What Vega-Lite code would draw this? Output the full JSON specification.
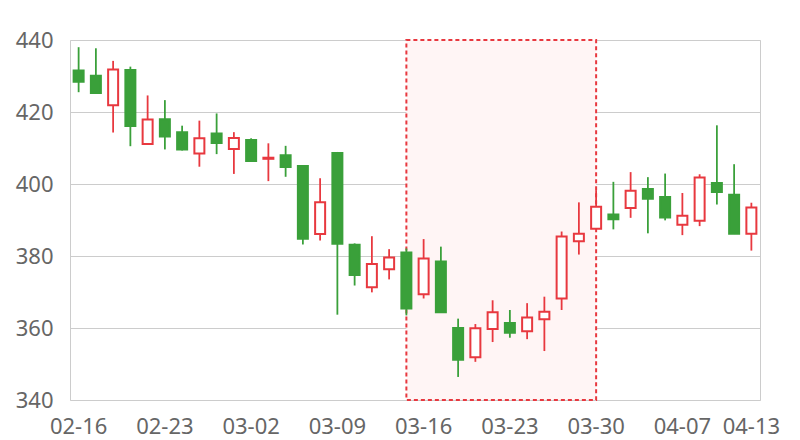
{
  "$schema": "https://vega.github.io/schema/vega-lite/v6.json",
  "width": 690,
  "height": 360,
  "autosize": {"type": "none"},
  "padding": {"left": 70, "top": 40, "right": 40, "bottom": 40},
  "background": "white",
  "config": {
    "view": {"stroke": "#cccccc", "strokeWidth": 1},
    "font": "Noto Sans",
    "axis": {
      "labelFont": "Noto Sans",
      "labelFontSize": 22,
      "labelColor": "#666666",
      "ticks": false,
      "domain": false,
      "title": null,
      "gridColor": "#cccccc",
      "gridWidth": 1
    }
  },
  "datasets": {
    "ohlc": [
      {"date": "02-16", "open": 431.5, "close": 428.4, "high": 438.0, "low": 425.5},
      {"date": "02-17", "open": 430.1, "close": 425.3, "high": 437.7, "low": 425.2},
      {"date": "02-18", "open": 421.9, "close": 431.8, "high": 434.2, "low": 414.3},
      {"date": "02-19", "open": 431.7, "close": 416.1, "high": 432.6, "low": 410.5},
      {"date": "02-20", "open": 411.1, "close": 417.9, "high": 424.6, "low": 411.0},
      {"date": "02-23", "open": 418.0, "close": 413.2, "high": 423.3, "low": 409.6},
      {"date": "02-24", "open": 414.4, "close": 409.6, "high": 416.2, "low": 409.3},
      {"date": "02-25", "open": 408.5, "close": 412.7, "high": 417.6, "low": 404.8},
      {"date": "02-26", "open": 414.0, "close": 411.4, "high": 419.6, "low": 408.3},
      {"date": "02-27", "open": 409.7, "close": 412.8, "high": 414.4, "low": 402.8},
      {"date": "03-02", "open": 412.2, "close": 406.4, "high": 412.7, "low": 406.3},
      {"date": "03-03", "open": 407.0, "close": 407.3, "high": 411.3, "low": 400.8},
      {"date": "03-04", "open": 408.0, "close": 404.7, "high": 410.6, "low": 402.0},
      {"date": "03-05", "open": 405.0, "close": 384.8, "high": 405.2, "low": 383.2},
      {"date": "03-06", "open": 386.1, "close": 394.9, "high": 401.6, "low": 384.3},
      {"date": "03-09", "open": 408.6, "close": 383.4, "high": 408.9, "low": 363.7},
      {"date": "03-10", "open": 383.1, "close": 374.7, "high": 383.5, "low": 371.8},
      {"date": "03-11", "open": 371.3, "close": 377.8, "high": 385.5, "low": 369.9},
      {"date": "03-12", "open": 376.3, "close": 379.6, "high": 381.9, "low": 373.5},
      {"date": "03-13", "open": 381.0, "close": 365.4, "high": 382.1, "low": 363.5},
      {"date": "03-16", "open": 369.4, "close": 379.3, "high": 384.7, "low": 368.2},
      {"date": "03-17", "open": 378.5, "close": 364.4, "high": 382.6, "low": 364.2},
      {"date": "03-18", "open": 360.0, "close": 351.2, "high": 362.6, "low": 346.4},
      {"date": "03-19", "open": 351.9, "close": 359.9, "high": 361.1, "low": 350.6},
      {"date": "03-20", "open": 359.7, "close": 364.4, "high": 367.7, "low": 356.1},
      {"date": "03-23", "open": 361.4, "close": 358.7, "high": 365.0, "low": 357.3},
      {"date": "03-24", "open": 359.1, "close": 362.9, "high": 366.9, "low": 356.9},
      {"date": "03-25", "open": 362.4, "close": 364.5, "high": 368.7, "low": 353.6},
      {"date": "03-26", "open": 368.2, "close": 385.4, "high": 386.8, "low": 365.0},
      {"date": "03-27", "open": 384.1, "close": 386.2, "high": 394.9, "low": 380.4},
      {"date": "03-30", "open": 387.6, "close": 393.7, "high": 398.3, "low": 387.4},
      {"date": "03-31", "open": 391.5, "close": 390.2, "high": 400.6, "low": 387.4},
      {"date": "04-01", "open": 393.3, "close": 398.1, "high": 403.3, "low": 390.6},
      {"date": "04-02", "open": 398.6, "close": 395.9, "high": 401.9, "low": 386.3},
      {"date": "04-03", "open": 396.4, "close": 390.7, "high": 402.9, "low": 389.9},
      {"date": "04-07", "open": 388.7, "close": 391.2, "high": 397.5, "low": 385.8},
      {"date": "04-08", "open": 389.8, "close": 401.8, "high": 402.7, "low": 388.3},
      {"date": "04-09", "open": 400.3, "close": 397.8, "high": 416.3, "low": 394.3},
      {"date": "04-10", "open": 397.0, "close": 386.2, "high": 405.5, "low": 386.1},
      {"date": "04-13", "open": 386.2, "close": 393.5, "high": 394.8, "low": 381.5}
    ],
    "region": [
      {"date": "03-13", "top": 440, "bottom": 340},
      {"date": "03-30", "top": 440, "bottom": 340}
    ]
  },
  "layer": [
    {
      "data": {"name": "region"},
      "mark": {"type": "area", "fill": "#fff5f5", "fillOpacity": 1, "stroke": "#e8383f", "strokeWidth": 2, "strokeDash": [4, 3]},
      "encoding": {
        "x": {"field": "date", "type": "ordinal"},
        "y": {"field": "top", "type": "quantitative"},
        "y2": {"field": "bottom"}
      }
    },
    {
      "data": {"name": "ohlc"},
      "mark": {"type": "rule", "strokeWidth": 1.8},
      "encoding": {
        "x": {"field": "date", "type": "ordinal"},
        "y": {"field": "low", "type": "quantitative"},
        "y2": {"field": "high"},
        "color": {"condition": {"test": "datum.close >= datum.open", "value": "#e8383f"}, "value": "#3aa03a"}
      }
    },
    {
      "data": {"name": "ohlc"},
      "mark": {"type": "bar", "size": 10, "strokeWidth": 2},
      "encoding": {
        "x": {"field": "date", "type": "ordinal"},
        "y": {"field": "open", "type": "quantitative"},
        "y2": {"field": "close"},
        "fill": {"condition": {"test": "datum.close >= datum.open", "value": "#ffffff"}, "value": "#3aa03a"},
        "stroke": {"condition": {"test": "datum.close >= datum.open", "value": "#e8383f"}, "value": "#3aa03a"}
      }
    }
  ],
  "encoding": {
    "x": {
      "field": "date",
      "type": "ordinal",
      "scale": {"type": "band", "paddingInner": 0, "paddingOuter": 0},
      "axis": {
        "values": ["02-16", "02-23", "03-02", "03-09", "03-16", "03-23", "03-30", "04-07", "04-13"],
        "labelAngle": 0,
        "labelPadding": 16,
        "grid": false,
        "labelOverlap": false
      }
    },
    "y": {
      "type": "quantitative",
      "scale": {"domain": [340, 440], "nice": false, "zero": false},
      "axis": {"values": [340, 360, 380, 400, 420, 440], "labelPadding": 17, "grid": true}
    }
  }
}
